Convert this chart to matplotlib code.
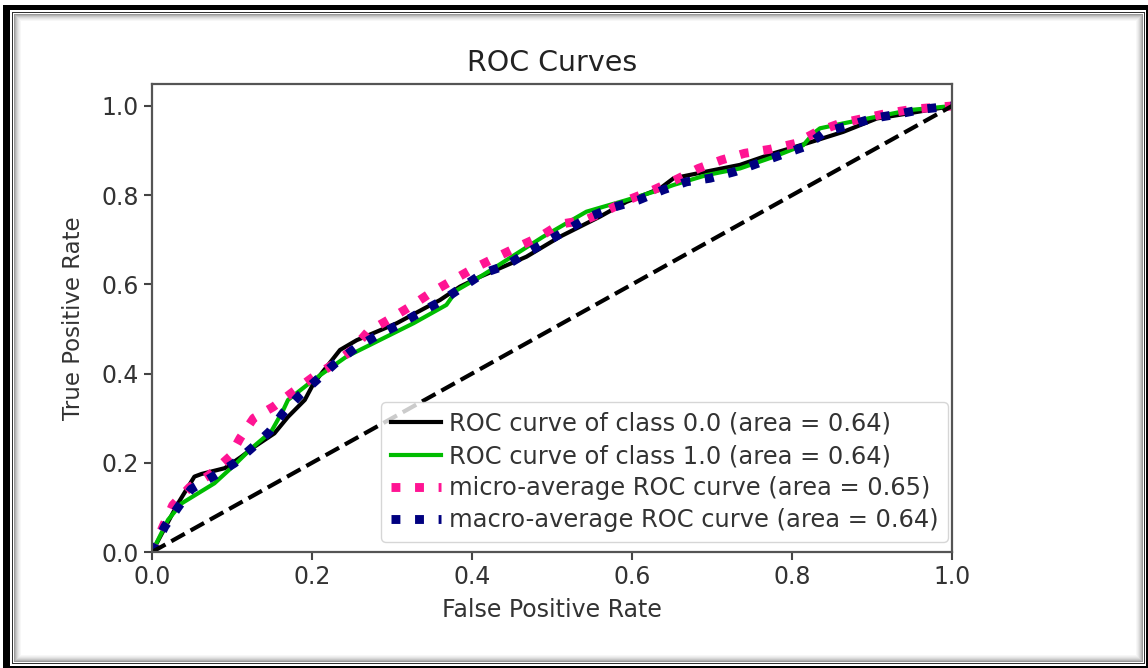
import numpy as np
import matplotlib
matplotlib.use('Agg')
import matplotlib.pyplot as plt
from matplotlib.patches import Rectangle

# ROC curve points (fpr, tpr)
fpr_class0 = [0, 0.0325, 0.053, 0.062, 0.091, 0.112, 0.128, 0.153, 0.17, 0.191, 0.202, 0.235,
              0.256, 0.306, 0.36, 0.385, 0.41, 0.468, 0.51, 0.56, 0.593, 0.635, 0.652, 0.693,
              0.735, 0.777, 0.818, 0.864, 0.906, 0.9475, 1.0]
tpr_class0 = [0, 0.109, 0.169, 0.175, 0.188, 0.214, 0.236, 0.266, 0.303, 0.341, 0.378, 0.453,
              0.475, 0.513, 0.565, 0.595, 0.617, 0.662, 0.707, 0.752, 0.785, 0.815, 0.838, 0.853,
              0.868, 0.894, 0.916, 0.942, 0.972, 0.984, 1.0]

fpr_class1 = [0, 0.02, 0.037, 0.078, 0.103, 0.124, 0.149, 0.164, 0.17, 0.202, 0.243, 0.327,
              0.368, 0.381, 0.41, 0.427, 0.489, 0.543, 0.564, 0.593, 0.635, 0.652, 0.693, 0.735,
              0.777, 0.814, 0.827, 0.835, 0.864, 0.906, 0.9475, 1.0]
tpr_class1 = [0, 0.072, 0.109, 0.154, 0.195, 0.232, 0.27, 0.318, 0.341, 0.386, 0.438, 0.513,
              0.554, 0.587, 0.617, 0.636, 0.707, 0.763, 0.774, 0.789, 0.812, 0.823, 0.845, 0.86,
              0.886, 0.912, 0.939, 0.95, 0.961, 0.976, 0.991, 1.0]

fpr_micro = [0, 0.014, 0.026, 0.047, 0.072, 0.0975, 0.11, 0.127, 0.152, 0.177, 0.202, 0.225,
             0.25, 0.27, 0.295, 0.3225, 0.3475, 0.3725, 0.4, 0.427, 0.456, 0.485, 0.51, 0.541,
             0.568, 0.5975, 0.627, 0.654, 0.683, 0.712, 0.741, 0.7725, 0.804, 0.831, 0.86,
             0.889, 0.92, 0.952, 1.0]
tpr_micro = [0, 0.058, 0.105, 0.145, 0.173, 0.214, 0.255, 0.3, 0.326, 0.36, 0.393, 0.419,
             0.453, 0.494, 0.52, 0.55, 0.58, 0.606, 0.634, 0.658, 0.683, 0.707, 0.735, 0.744,
             0.765, 0.791, 0.812, 0.834, 0.86, 0.879, 0.894, 0.903, 0.916, 0.942, 0.961,
             0.972, 0.984, 0.993, 1.0]

fpr_macro = [0, 0.016, 0.0325, 0.049, 0.076, 0.103, 0.126, 0.147, 0.164, 0.185, 0.208, 0.229,
             0.254, 0.281, 0.308, 0.335, 0.362, 0.387, 0.414, 0.443, 0.468, 0.4975, 0.5225,
             0.5475, 0.579, 0.608, 0.639, 0.668, 0.6975, 0.729, 0.758, 0.789, 0.818, 0.841,
             0.8725, 0.9, 0.933, 0.964, 1.0]
tpr_macro = [0, 0.057, 0.1, 0.141, 0.169, 0.199, 0.235, 0.27, 0.312, 0.352, 0.389, 0.423,
             0.457, 0.485, 0.509, 0.537, 0.563, 0.593, 0.625, 0.643, 0.67, 0.7, 0.726,
             0.752, 0.774, 0.789, 0.812, 0.83, 0.838, 0.853, 0.872, 0.892, 0.91, 0.942,
             0.957, 0.972, 0.982, 0.993, 1.0]

labels = ['ROC curve of class 0.0 (area = 0.64)',
          'ROC curve of class 1.0 (area = 0.64)',
          'micro-average ROC curve (area = 0.65)',
          'macro-average ROC curve (area = 0.64)']

W, H = 1148, 668
fig = plt.figure(figsize=(W / 100, H / 100), dpi=100, facecolor='white')


def px_rect(x0, y0, x1, y1, color):
    # rectangle given in pixel coords measured from top-left
    fig.add_artist(Rectangle((x0 / W, 1 - y1 / H), (x1 - x0) / W, (y1 - y0) / H,
                             transform=fig.transFigure, facecolor=color,
                             edgecolor='none', zorder=-5))


# picture frame: thick black border left/top, thin line, inner shadow
px_rect(3, 5, 1148, 668, 'black')
px_rect(10, 10, 1146, 666, 'white')
px_rect(12, 12, 1145, 664, '#303030')
px_rect(13, 13, 1144, 663, 'white')
shade = ['#9a9a9a', '#b4b4b4', '#c8c8c8', '#d8d8d8', '#e5e5e5', '#efefef', '#f7f7f7']
for i, c in enumerate(shade):
    px_rect(14 + i, 14 + i, 1143 - i, 662 - i, c)
    px_rect(15 + i, 15 + i, 1142 - i, 661 - i, 'white')
px_rect(21, 21, 1136, 655, 'white')

ax = fig.add_axes([152 / W, 1 - 552 / H, 800 / W, (552 - 83.7) / H])
ax.set_zorder(2)

cmap = plt.get_cmap('nipy_spectral')
ax.plot(fpr_class0, tpr_class0, lw=3.0, color=cmap(0.0), label=labels[0])
ax.plot(fpr_class1, tpr_class1, lw=3.0, color=cmap(0.5), label=labels[1])
ax.plot(fpr_micro, tpr_micro, lw=6.4, ls=':', color='deeppink', label=labels[2])
ax.plot(fpr_macro, tpr_macro, lw=6.4, ls=':', color='navy', label=labels[3])
ax.plot([0, 1], [0, 1], 'k--', lw=3.0)

ax.set_xlim([0.0, 1.0])
ax.set_ylim([0.0, 1.05])
ax.set_title('ROC Curves', fontsize=20.5, color='#222222', pad=9)
ax.set_xlabel('False Positive Rate', fontsize=17, color='#333333', labelpad=6)
ax.set_ylabel('True Positive Rate', fontsize=16.5, color='#333333', labelpad=12)
ax.tick_params(labelsize=17, length=6, width=1.5, colors='#444444', labelcolor='#333333')
for sp in ax.spines.values():
    sp.set_color('#555555')
    sp.set_linewidth(1.6)

leg = ax.legend(loc='lower right', bbox_to_anchor=(0.995, 0.021), borderaxespad=0,
                fontsize=17.4, framealpha=0.8, edgecolor='#cccccc',
                handlelength=2.1, handletextpad=0.3, borderpad=0.4, labelspacing=0.34)
for t in leg.get_texts():
    t.set_color('#333333')

fig.savefig('out.png', dpi=100, facecolor='white')
